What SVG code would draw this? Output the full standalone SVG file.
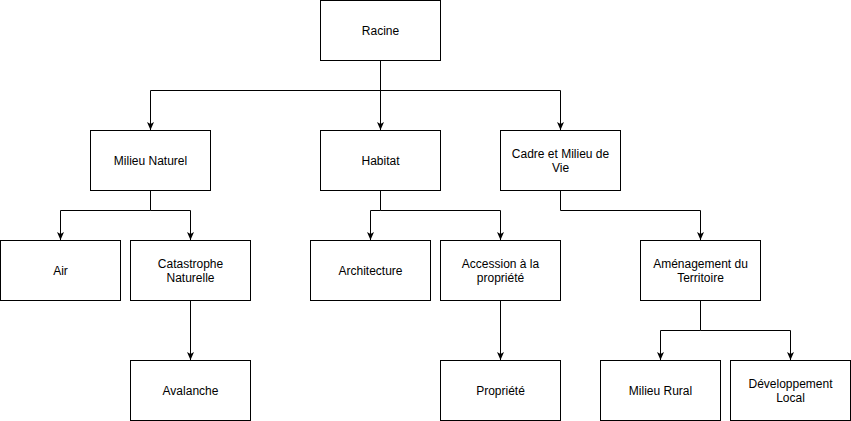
<svg xmlns="http://www.w3.org/2000/svg" width="851" height="421" viewBox="0 0 851 421">
<style>
.box{fill:#fff;stroke:#000;stroke-width:1}
.lbl{font-family:"Liberation Sans",Arial,sans-serif;font-size:12px;fill:#000;text-anchor:middle}
.edge{fill:none;stroke:#000;stroke-width:1}
</style>
<defs>
<marker id="arr" viewBox="0 0 8 8" refX="8" refY="4" markerWidth="8" markerHeight="8" markerUnits="userSpaceOnUse" orient="auto">
<path d="M0,0.5 L8,4 L0,7.5 L2,4 Z" fill="#000"/>
</marker>
</defs>
<rect width="851" height="421" fill="#fff"/>
<g id="connectors">
<path class="edge" d="M380.5,60.5 V130" marker-end="url(#arr)"/>
<path class="edge" d="M380.5,90.5 H150.5 V130" marker-end="url(#arr)"/>
<path class="edge" d="M380.5,90.5 H560.5 V130" marker-end="url(#arr)"/>
<path class="edge" d="M150.5,190.5 V210.5 H60.5 V240" marker-end="url(#arr)"/>
<path class="edge" d="M150.5,210.5 H190.5 V240" marker-end="url(#arr)"/>
<path class="edge" d="M190.5,300.5 V360" marker-end="url(#arr)"/>
<path class="edge" d="M380.5,190.5 V210.5 H370.5 V240" marker-end="url(#arr)"/>
<path class="edge" d="M380.5,210.5 H500.5 V240" marker-end="url(#arr)"/>
<path class="edge" d="M500.5,300.5 V360" marker-end="url(#arr)"/>
<path class="edge" d="M560.5,190.5 V210.5 H700.5 V240" marker-end="url(#arr)"/>
<path class="edge" d="M700.5,300.5 V330.5 H660.5 V360" marker-end="url(#arr)"/>
<path class="edge" d="M700.5,330.5 H790.5 V360" marker-end="url(#arr)"/>
</g>
<g id="racine"><rect class="box" x="320.5" y="0.5" width="120" height="60"/><text class="lbl" x="380.5" y="35">Racine</text></g>
<g id="milieu-naturel"><rect class="box" x="90.5" y="130.5" width="120" height="60"/><text class="lbl" x="150.5" y="165">Milieu Naturel</text></g>
<g id="habitat"><rect class="box" x="320.5" y="130.5" width="120" height="60"/><text class="lbl" x="380.5" y="165">Habitat</text></g>
<g id="cadre"><rect class="box" x="500.5" y="130.5" width="120" height="60"/><text class="lbl" x="560.5" y="158">Cadre et Milieu de</text><text class="lbl" x="560.5" y="172">Vie</text></g>
<g id="air"><rect class="box" x="0.5" y="240.5" width="120" height="60"/><text class="lbl" x="60.5" y="275">Air</text></g>
<g id="catastrophe"><rect class="box" x="130.5" y="240.5" width="120" height="60"/><text class="lbl" x="190.5" y="268">Catastrophe</text><text class="lbl" x="190.5" y="282">Naturelle</text></g>
<g id="architecture"><rect class="box" x="310.5" y="240.5" width="120" height="60"/><text class="lbl" x="370.5" y="275">Architecture</text></g>
<g id="accession"><rect class="box" x="440.5" y="240.5" width="120" height="60"/><text class="lbl" x="500.5" y="268">Accession à la</text><text class="lbl" x="500.5" y="282">propriété</text></g>
<g id="amenagement"><rect class="box" x="640.5" y="240.5" width="120" height="60"/><text class="lbl" x="700.5" y="268">Aménagement du</text><text class="lbl" x="700.5" y="282">Territoire</text></g>
<g id="avalanche"><rect class="box" x="130.5" y="360.5" width="120" height="60"/><text class="lbl" x="190.5" y="395">Avalanche</text></g>
<g id="propriete"><rect class="box" x="440.5" y="360.5" width="120" height="60"/><text class="lbl" x="500.5" y="395">Propriété</text></g>
<g id="milieu-rural"><rect class="box" x="600.5" y="360.5" width="120" height="60"/><text class="lbl" x="660.5" y="395">Milieu Rural</text></g>
<g id="developpement"><rect class="box" x="730.5" y="360.5" width="120" height="60"/><text class="lbl" x="790.5" y="388">Développement</text><text class="lbl" x="790.5" y="402">Local</text></g>
</svg>
